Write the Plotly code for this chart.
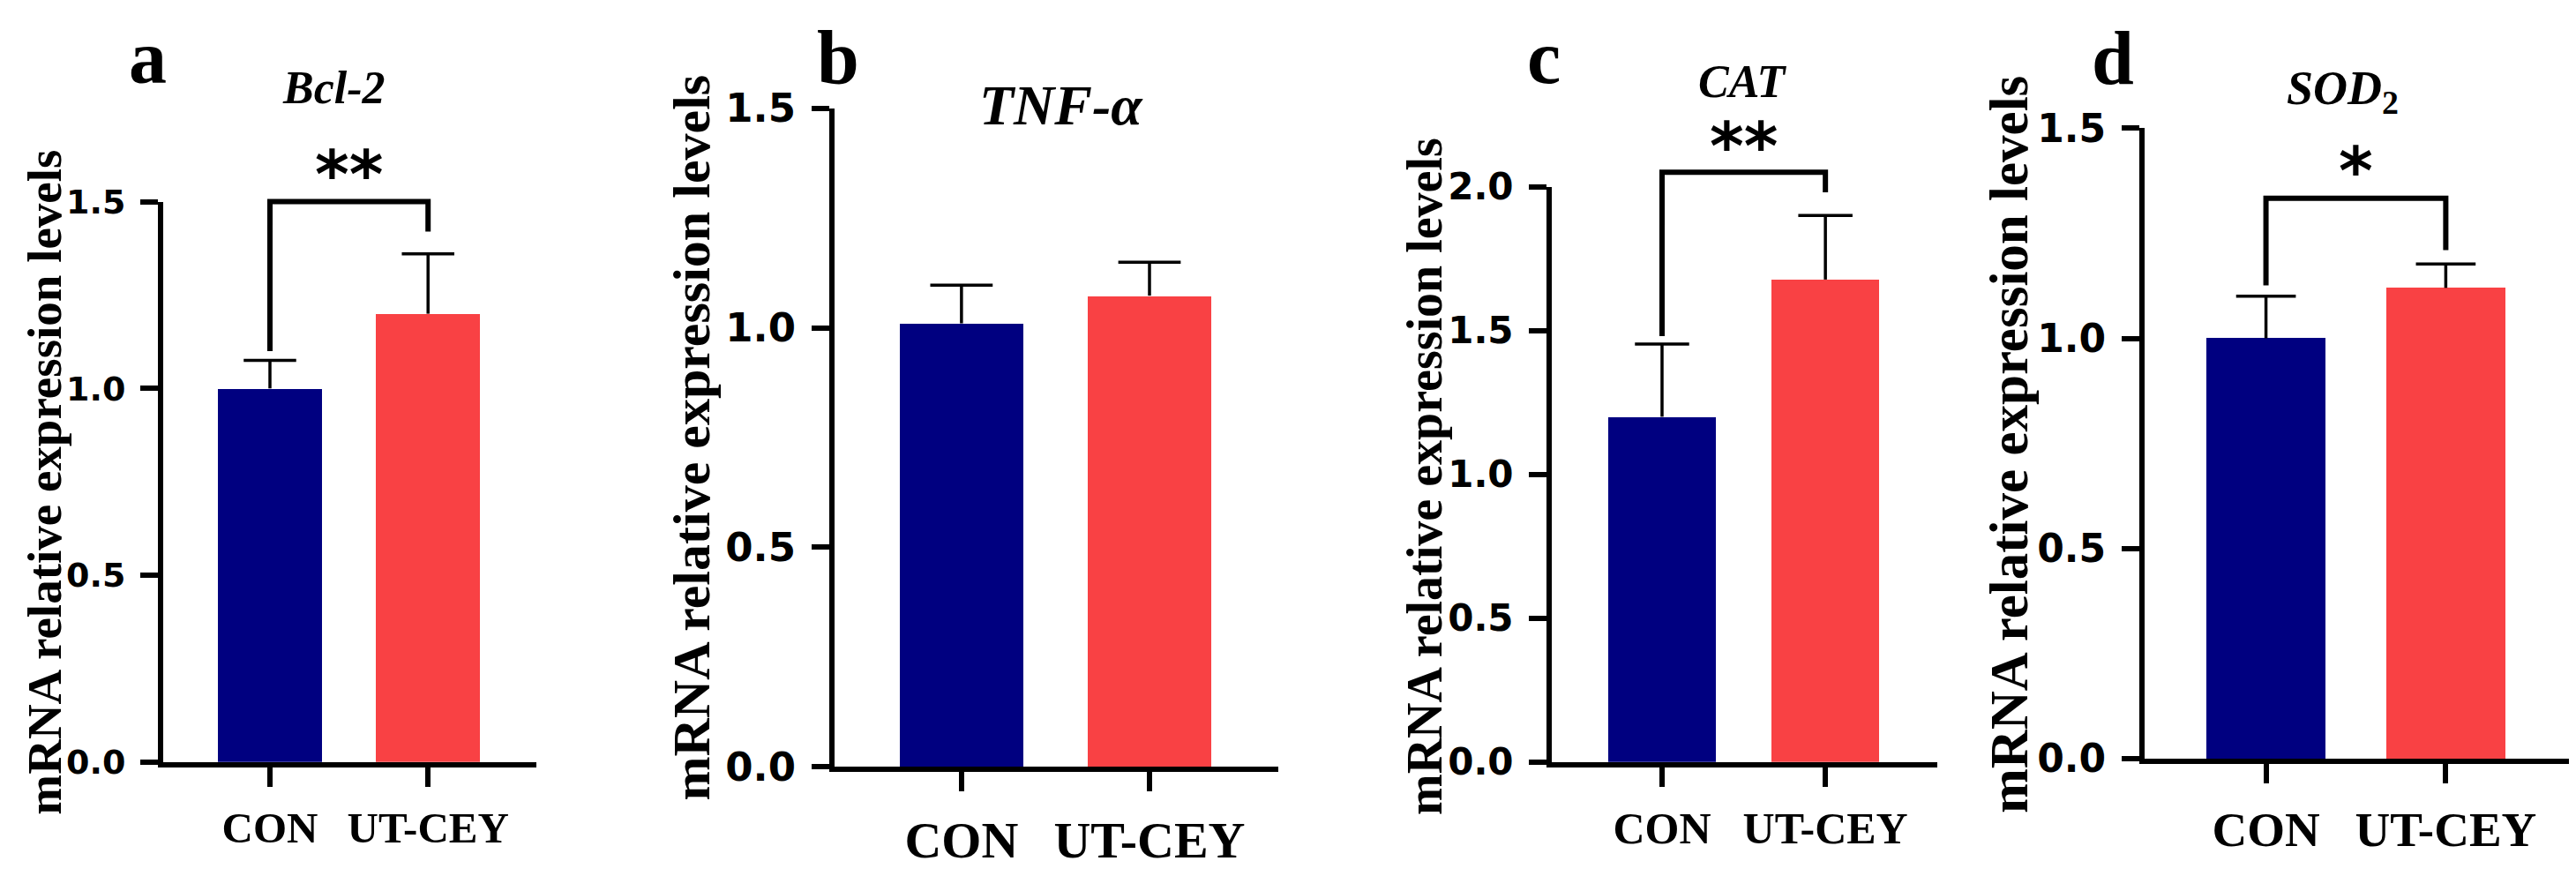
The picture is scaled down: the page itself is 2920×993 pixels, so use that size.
import plotly.graph_objects as go

# data
groups = ["CON", "UT-CEY"]
genes = ["<i>Bcl-2</i>", "<i>TNF-α</i>", "<i>CAT</i>", "<i>SOD</i><sub>2</sub>"]
panel_letters = ["a", "b", "c", "d"]

bcl2_mean = [1.00, 1.20]
bcl2_sd = [0.075, 0.16]
tnf_mean = [1.01, 1.073]
tnf_sd = [0.087, 0.076]
cat_mean = [1.20, 1.677]
cat_sd = [0.253, 0.223]
sod2_mean = [1.00, 1.12]
sod2_sd = [0.10, 0.057]

y_max = [1.5, 1.5, 2.0, 1.5]
y_tick_vals = [
    [0.0, 0.5, 1.0, 1.5],
    [0.0, 0.5, 1.0, 1.5],
    [0.0, 0.5, 1.0, 1.5, 2.0],
    [0.0, 0.5, 1.0, 1.5],
]

# significance brackets: label, bracket height, left / right leg ends
sig_labels = ["**", None, "**", "*"]
bracket_top = [1.50, None, 2.05, 1.333]
bracket_left = [1.10, None, 1.48, 1.126]
bracket_right = [1.42, None, 1.98, 1.21]

means = [bcl2_mean, tnf_mean, cat_mean, sod2_mean]
sds = [bcl2_sd, tnf_sd, cat_sd, sod2_sd]

# layout (pixels in the 2920 x 993 canvas)
W, H = 2920, 993
plot_left = [185, 946, 1759, 2431]
plot_right = [608, 1449, 2196, 2912]
plot_bottom = [885, 891, 885, 881]
plot_top = [214, 102, 196, 126]
ytitle_x = [51, 784, 1615, 2277]
ytitle_y = [550, 497, 543, 505]
ytitle_size = [55, 60, 56, 61]
letter_x = [167, 950, 1750, 2395]
letter_y = [41, 41, 41, 42]
gene_x = [378, 1203, 1975, 2655]
gene_y = [78, 99, 70, 82]
gene_size = [52, 64, 52, 54]
ytick_size = [38, 45, 42, 44]
xtick_size = [49, 58, 50, 55]
xtick_standoff = [4, 5, 4, 5]
star_size = [74, 74, 74, 74]
star_shift = [31, 0, 29, 31]

bar_colors = ["#000080", "#F94144"]
bar_width = 0.66
cap_half = 0.166
x_range = [-0.675, 1.685]
headroom_px = 170
serif = "Liberation Serif"
sans = "DejaVu Sans"


def px(x):
    return x / W


def py(y):
    return 1 - y / H


fig = go.Figure()
annotations = []

for i in range(4):
    n = "" if i == 0 else str(i + 1)
    xa, ya = "x" + n, "y" + n
    ya_top = "y" + str(i + 5)  # invisible axis with headroom, same scale
    m, s = means[i], sds[i]
    xs = list(range(len(groups)))

    fig.add_trace(go.Bar(
        x=xs, y=m, width=bar_width,
        marker=dict(color=bar_colors, line=dict(width=0)),
        xaxis=xa, yaxis=ya, showlegend=False,
    ))

    # upper whiskers (mean + SD)
    ex, ey = [], []
    for k in xs:
        top = m[k] + s[k]
        ex += [k, k, None, k - cap_half, k + cap_half, None]
        ey += [m[k], top, None, top, top, None]
    fig.add_trace(go.Scatter(
        x=ex, y=ey, mode="lines", line=dict(color="black", width=3.5),
        xaxis=xa, yaxis=ya, showlegend=False, hoverinfo="skip",
    ))

    if sig_labels[i]:
        fig.add_trace(go.Scatter(
            x=[0, 0, 1, 1],
            y=[bracket_left[i], bracket_top[i], bracket_top[i], bracket_right[i]],
            mode="lines", line=dict(color="black", width=6),
            xaxis=xa, yaxis=ya_top, showlegend=False, hoverinfo="skip",
        ))
        annotations.append(dict(
            x=0.5, y=bracket_top[i], xref=xa, yref=ya_top,
            text="<b>" + sig_labels[i] + "</b>",
            showarrow=False, yanchor="middle", yshift=star_shift[i],
            font=dict(family=sans, size=star_size[i], color="black"),
        ))

    bottom = py(plot_bottom[i])
    top = py(plot_top[i])
    ext_top_px = max(0, plot_top[i] - headroom_px)
    ext_ratio = (plot_bottom[i] - ext_top_px) / (plot_bottom[i] - plot_top[i])

    fig.layout["xaxis" + n] = dict(
        domain=[px(plot_left[i]), px(plot_right[i])], anchor=ya,
        range=x_range, tickvals=xs, ticktext=groups,
        showline=True, linewidth=6, linecolor="black", ticks="outside",
        ticklen=22, tickwidth=6, tickcolor="black", showgrid=False, zeroline=False,
        ticklabelstandoff=xtick_standoff[i],
        tickfont=dict(family=serif, size=xtick_size[i], color="black", weight="bold"),
    )
    fig.layout["yaxis" + n] = dict(
        domain=[bottom, top], anchor=xa,
        range=[0, y_max[i]], tickvals=y_tick_vals[i], tickformat=".1f",
        showline=True, linewidth=6, linecolor="black", ticks="outside",
        ticklen=20, tickwidth=6, tickcolor="black", showgrid=False, zeroline=False,
        ticklabelstandoff=9,
        tickfont=dict(family=sans, size=ytick_size[i], color="black", weight="bold"),
    )
    fig.layout["yaxis" + str(i + 5)] = dict(
        domain=[bottom, py(ext_top_px)], anchor=xa,
        range=[0, y_max[i] * ext_ratio], visible=False, fixedrange=True,
    )

    annotations.append(dict(
        x=px(ytitle_x[i]), y=py(ytitle_y[i]), xref="paper", yref="paper",
        text="<b>mRNA relative expression levels</b>", textangle=-90,
        showarrow=False, xanchor="center", yanchor="middle",
        font=dict(family=serif, size=ytitle_size[i], color="black"),
    ))
    annotations.append(dict(
        x=px(letter_x[i]), y=py(letter_y[i]), xref="paper", yref="paper",
        text="<b>" + panel_letters[i] + "</b>", showarrow=False,
        xanchor="center", yanchor="middle",
        font=dict(family=serif, size=86, color="black"),
    ))
    annotations.append(dict(
        x=px(gene_x[i]), y=py(gene_y[i]), xref="paper", yref="paper",
        text="<b>" + genes[i] + "</b>", showarrow=False,
        xanchor="center", yanchor="middle",
        font=dict(family=serif, size=gene_size[i], color="black"),
    ))

fig.update_layout(
    width=W, height=H,
    margin=dict(l=0, r=0, t=0, b=0),
    paper_bgcolor="white", plot_bgcolor="rgba(0,0,0,0)",
    bargap=0, annotations=annotations,
)

# drop the browser's default page margin so the canvas sits at (0, 0)
fig.write_html(
    "out.html",
    config={"displayModeBar": False},
    post_script="document.body.style.margin='0';document.body.style.overflow='hidden';",
)
